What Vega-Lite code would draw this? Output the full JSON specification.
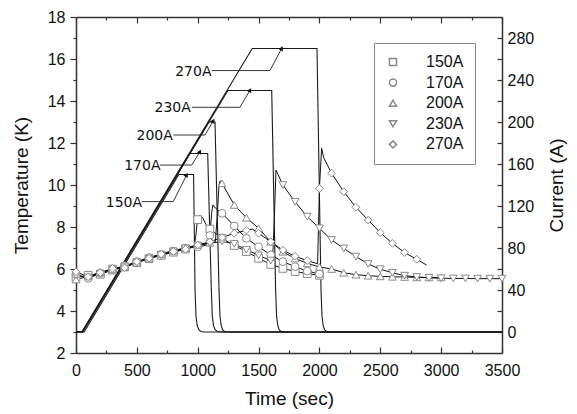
{
  "$schema": "https://vega.github.io/schema/vega-lite/v6.json",
  "width": 426,
  "height": 336,
  "autosize": {"type": "none"},
  "padding": {"left": 76, "top": 17, "right": 75, "bottom": 61},
  "background": "white",
  "config": {
    "view": {"stroke": null},
    "axis": {
      "labelFont": "Liberation Sans", "titleFont": "Liberation Sans",
      "labelFontSize": 16, "titleFontSize": 19, "titleFontWeight": "normal",
      "labelColor": "#111", "titleColor": "#111",
      "domainColor": "#333", "tickColor": "#333", "domainWidth": 1.5, "tickWidth": 1.2,
      "grid": false, "labelFlush": false, "labelOverlap": false
    },
    "legend": {"labelFont": "Liberation Sans", "labelFontSize": 16, "labelColor": "#111"}
  },
  "datasets": {
    "temp": [
      {"s":"150A","t":0,"T":5.6},{"s":"150A","t":100,"T":5.7},{"s":"150A","t":200,"T":5.75},{"s":"150A","t":300,"T":5.95},{"s":"150A","t":400,"T":6.1},{"s":"150A","t":500,"T":6.3},{"s":"150A","t":600,"T":6.5},{"s":"150A","t":700,"T":6.65},{"s":"150A","t":800,"T":6.8},{"s":"150A","t":900,"T":6.95},{"s":"150A","t":970,"T":7.05},{"s":"150A","t":985,"T":7.6},{"s":"150A","t":995,"T":8.2},{"s":"150A","t":1000,"T":8.35},{"s":"150A","t":1015,"T":8.55},{"s":"150A","t":1040,"T":8.45},{"s":"150A","t":1070,"T":8.1},{"s":"150A","t":1100,"T":7.9},{"s":"150A","t":1200,"T":7.46},{"s":"150A","t":1300,"T":7.12},{"s":"150A","t":1400,"T":6.83},{"s":"150A","t":1500,"T":6.51},{"s":"150A","t":1600,"T":6.22},{"s":"150A","t":1700,"T":6.03},{"s":"150A","t":1800,"T":5.88},{"s":"150A","t":1900,"T":5.78},{"s":"150A","t":2000,"T":5.7},
      {"s":"170A","t":0,"T":5.75},{"s":"170A","t":100,"T":5.55},{"s":"170A","t":200,"T":5.8},{"s":"170A","t":300,"T":6.0},{"s":"170A","t":400,"T":6.15},{"s":"170A","t":500,"T":6.35},{"s":"170A","t":600,"T":6.55},{"s":"170A","t":700,"T":6.7},{"s":"170A","t":800,"T":6.85},{"s":"170A","t":900,"T":7.0},{"s":"170A","t":1000,"T":7.05},{"s":"170A","t":1085,"T":7.15},{"s":"170A","t":1100,"T":7.6},{"s":"170A","t":1115,"T":8.7},{"s":"170A","t":1125,"T":9.05},{"s":"170A","t":1145,"T":8.9},{"s":"170A","t":1200,"T":8.65},{"s":"170A","t":1300,"T":8.05},{"s":"170A","t":1400,"T":7.46},{"s":"170A","t":1500,"T":7.06},{"s":"170A","t":1600,"T":6.67},{"s":"170A","t":1700,"T":6.35},{"s":"170A","t":1800,"T":6.11},{"s":"170A","t":1900,"T":5.9},{"s":"170A","t":2000,"T":5.76},
      {"s":"200A","t":0,"T":5.5},{"s":"200A","t":100,"T":5.65},{"s":"200A","t":200,"T":5.85},{"s":"200A","t":300,"T":5.98},{"s":"200A","t":400,"T":6.1},{"s":"200A","t":500,"T":6.3},{"s":"200A","t":600,"T":6.5},{"s":"200A","t":700,"T":6.72},{"s":"200A","t":800,"T":6.88},{"s":"200A","t":900,"T":7.0},{"s":"200A","t":1000,"T":7.15},{"s":"200A","t":1100,"T":7.25},{"s":"200A","t":1145,"T":7.3},{"s":"200A","t":1160,"T":8.5},{"s":"200A","t":1175,"T":10.0},{"s":"200A","t":1185,"T":10.2},{"s":"200A","t":1200,"T":10.08},{"s":"200A","t":1300,"T":9.05},{"s":"200A","t":1400,"T":8.44},{"s":"200A","t":1500,"T":7.94},{"s":"200A","t":1600,"T":7.3},{"s":"200A","t":1700,"T":6.82},{"s":"200A","t":1800,"T":6.5},{"s":"200A","t":1900,"T":6.27},{"s":"200A","t":2000,"T":6.1},{"s":"200A","t":2100,"T":6.0},{"s":"200A","t":2200,"T":5.82},{"s":"200A","t":2300,"T":5.73},{"s":"200A","t":2400,"T":5.68},{"s":"200A","t":2500,"T":5.65},{"s":"200A","t":2600,"T":5.63},{"s":"200A","t":2700,"T":5.62},{"s":"200A","t":2800,"T":5.6},{"s":"200A","t":2900,"T":5.6},{"s":"200A","t":3000,"T":5.6},
      {"s":"230A","t":0,"T":5.7},{"s":"230A","t":100,"T":5.6},{"s":"230A","t":200,"T":5.78},{"s":"230A","t":300,"T":6.02},{"s":"230A","t":400,"T":6.08},{"s":"230A","t":500,"T":6.32},{"s":"230A","t":600,"T":6.48},{"s":"230A","t":700,"T":6.68},{"s":"230A","t":800,"T":6.84},{"s":"230A","t":900,"T":6.98},{"s":"230A","t":1000,"T":7.12},{"s":"230A","t":1100,"T":7.22},{"s":"230A","t":1200,"T":7.32},{"s":"230A","t":1300,"T":7.2},{"s":"230A","t":1400,"T":6.92},{"s":"230A","t":1500,"T":6.65},{"s":"230A","t":1600,"T":6.4},{"s":"230A","t":1615,"T":6.35},{"s":"230A","t":1630,"T":8.5},{"s":"230A","t":1643,"T":10.71},{"s":"230A","t":1660,"T":10.5},{"s":"230A","t":1700,"T":10.0},{"s":"230A","t":1800,"T":9.2},{"s":"230A","t":1900,"T":8.49},{"s":"230A","t":2000,"T":7.94},{"s":"230A","t":2100,"T":7.38},{"s":"230A","t":2200,"T":6.98},{"s":"230A","t":2300,"T":6.59},{"s":"230A","t":2400,"T":6.24},{"s":"230A","t":2500,"T":5.99},{"s":"230A","t":2600,"T":5.82},{"s":"230A","t":2700,"T":5.68},{"s":"230A","t":2800,"T":5.62},{"s":"230A","t":2900,"T":5.58},{"s":"230A","t":3000,"T":5.56},{"s":"230A","t":3100,"T":5.55},{"s":"230A","t":3200,"T":5.55},{"s":"230A","t":3300,"T":5.54},{"s":"230A","t":3400,"T":5.54},{"s":"230A","t":3500,"T":5.54},
      {"s":"270A","t":0,"T":5.87},{"s":"270A","t":100,"T":5.63},{"s":"270A","t":200,"T":5.82},{"s":"270A","t":300,"T":6.03},{"s":"270A","t":400,"T":6.06},{"s":"270A","t":500,"T":6.35},{"s":"270A","t":600,"T":6.51},{"s":"270A","t":700,"T":6.71},{"s":"270A","t":800,"T":6.83},{"s":"270A","t":900,"T":6.94},{"s":"270A","t":1000,"T":7.14},{"s":"270A","t":1100,"T":7.3},{"s":"270A","t":1200,"T":7.5},{"s":"270A","t":1300,"T":7.7},{"s":"270A","t":1400,"T":7.85},{"s":"270A","t":1450,"T":7.9},{"s":"270A","t":1500,"T":7.7},{"s":"270A","t":1600,"T":7.3},{"s":"270A","t":1700,"T":6.9},{"s":"270A","t":1800,"T":6.6},{"s":"270A","t":1900,"T":6.4},{"s":"270A","t":1985,"T":6.25},{"s":"270A","t":2000,"T":9.84},{"s":"270A","t":2018,"T":11.75},{"s":"270A","t":2035,"T":11.3},{"s":"270A","t":2100,"T":10.56},{"s":"270A","t":2200,"T":9.68},{"s":"270A","t":2300,"T":8.94},{"s":"270A","t":2400,"T":8.33},{"s":"270A","t":2500,"T":7.73},{"s":"270A","t":2600,"T":7.22},{"s":"270A","t":2700,"T":6.78},{"s":"270A","t":2800,"T":6.46},{"s":"270A","t":2880,"T":6.19}
    ],
    "cur": [
      {"s":"150A","t":0,"I":0},{"s":"150A","t":67,"I":0},{"s":"150A","t":845,"I":150},{"s":"150A","t":966,"I":150},{"s":"150A","t":978,"I":40},{"s":"150A","t":986,"I":15},{"s":"150A","t":996,"I":6},{"s":"150A","t":1010,"I":2},{"s":"150A","t":1028,"I":0.5},{"s":"150A","t":1053,"I":0},{"s":"150A","t":3500,"I":0},
      {"s":"170A","t":0,"I":0},{"s":"170A","t":53,"I":0},{"s":"170A","t":935,"I":170},{"s":"170A","t":1082,"I":170},{"s":"170A","t":1112,"I":40},{"s":"170A","t":1120,"I":15},{"s":"170A","t":1130,"I":6},{"s":"170A","t":1144,"I":2},{"s":"170A","t":1162,"I":0.5},{"s":"170A","t":1187,"I":0},{"s":"170A","t":3500,"I":0},
      {"s":"200A","t":0,"I":0},{"s":"200A","t":54,"I":0},{"s":"200A","t":1092,"I":200},{"s":"200A","t":1142,"I":200},{"s":"200A","t":1175,"I":40},{"s":"200A","t":1183,"I":15},{"s":"200A","t":1193,"I":6},{"s":"200A","t":1205,"I":2},{"s":"200A","t":1220,"I":0.5},{"s":"200A","t":1240,"I":0},{"s":"200A","t":3500,"I":0},
      {"s":"230A","t":0,"I":0},{"s":"230A","t":54,"I":0},{"s":"230A","t":1248,"I":230},{"s":"230A","t":1608,"I":230},{"s":"230A","t":1640,"I":40},{"s":"230A","t":1648,"I":15},{"s":"230A","t":1658,"I":6},{"s":"230A","t":1670,"I":2},{"s":"230A","t":1686,"I":0.5},{"s":"230A","t":1706,"I":0},{"s":"230A","t":3500,"I":0},
      {"s":"270A","t":0,"I":0},{"s":"270A","t":47,"I":0},{"s":"270A","t":1448,"I":270},{"s":"270A","t":1980,"I":270},{"s":"270A","t":2013,"I":40},{"s":"270A","t":2021,"I":15},{"s":"270A","t":2031,"I":6},{"s":"270A","t":2043,"I":2},{"s":"270A","t":2058,"I":0.5},{"s":"270A","t":2078,"I":0},{"s":"270A","t":3500,"I":0}
    ],
    "annText": [
      {"label":"150A","t":394,"T":9.16},
      {"label":"170A","t":545,"T":10.9},
      {"label":"200A","t":646,"T":12.33},
      {"label":"230A","t":794,"T":13.65},
      {"label":"270A","t":964,"T":15.4}
    ],
    "annLine": [
      {"label":"150A","k":1,"t":540,"T":9.21},{"label":"150A","k":2,"t":799,"T":9.21},{"label":"150A","k":3,"t":909,"T":10.48},
      {"label":"170A","k":1,"t":690,"T":10.95},{"label":"170A","k":2,"t":951,"T":10.95},{"label":"170A","k":3,"t":1019,"T":11.59},
      {"label":"200A","k":1,"t":800,"T":12.38},{"label":"200A","k":2,"t":1060,"T":12.38},{"label":"200A","k":3,"t":1128,"T":13.06},
      {"label":"230A","k":1,"t":951,"T":13.7},{"label":"230A","k":2,"t":1347,"T":13.7},{"label":"230A","k":3,"t":1430,"T":14.52},
      {"label":"270A","k":1,"t":1115,"T":15.45},{"label":"270A","k":2,"t":1594,"T":15.45},{"label":"270A","k":3,"t":1690,"T":16.51}
    ]
  },
  "layer": [
    {
      "data": {"name": "cur"},
      "mark": {"type": "line", "strokeWidth": 1.1, "color": "#1a1a1a"},
      "encoding": {
        "x": {"field": "t", "type": "quantitative", "scale": {"domain": [0, 3500], "nice": false, "zero": false}, "axis": null},
        "y": {"field": "I", "type": "quantitative", "scale": {"domain": [-20, 300], "nice": false, "zero": false},
              "axis": {"orient": "right", "values": [0, 40, 80, 120, 160, 200, 240, 280], "tickSize": -5, "labelPadding": 10, "title": "Current (A)", "titleAngle": 270, "titleBaseline": "top", "titlePadding": 14}},
        "detail": {"field": "s", "type": "nominal"}
      }
    },
    {
      "data": {"name": "temp"},
      "mark": {"type": "line", "strokeWidth": 1, "color": "#111"},
      "encoding": {
        "x": {"field": "t", "type": "quantitative", "scale": {"domain": [0, 3500], "nice": false, "zero": false},
              "axis": {"orient": "bottom", "values": [0, 500, 1000, 1500, 2000, 2500, 3000, 3500], "format": "d", "tickSize": -6, "labelPadding": 15, "title": "Time (sec)", "titlePadding": 11}},
        "y": {"field": "T", "type": "quantitative", "scale": {"domain": [2, 18], "nice": false, "zero": false},
              "axis": {"orient": "left", "values": [2, 4, 6, 8, 10, 12, 14, 16, 18], "tickSize": 6, "labelPadding": 5, "title": "Temperature (K)", "titlePadding": 16}},
        "detail": {"field": "s", "type": "nominal"}
      }
    },
    {
      "data": {"name": "temp"},
      "transform": [{"filter": "datum.t % 100 === 0"}],
      "mark": {"type": "point", "filled": true, "fill": "white", "stroke": "#8a8a8a", "strokeWidth": 1, "size": 60, "opacity": 1},
      "encoding": {
        "x": {"field": "t", "type": "quantitative", "scale": {"domain": [0, 3500], "nice": false, "zero": false},
              "axis": {"orient": "top", "values": [0, 500, 1000, 1500, 2000, 2500, 3000, 3500], "tickSize": -6, "labels": false, "title": null}},
        "y": {"field": "T", "type": "quantitative", "scale": {"domain": [2, 18], "nice": false, "zero": false},
              "axis": {"orient": "left", "values": [3, 5, 7, 9, 11, 13, 15, 17], "tickSize": 3, "labels": false, "domain": false, "title": null}},
        "shape": {"field": "s", "type": "nominal",
                  "scale": {"domain": ["150A", "170A", "200A", "230A", "270A"], "range": ["square", "circle", "triangle-up", "triangle-down", "diamond"]},
                  "legend": {"orient": "none", "legendX": 298, "legendY": 26, "title": null,
                             "symbolSize": 50, "strokeColor": "#888", "padding": 11, "labelOffset": 25, "rowPadding": 4.6,
                             "encode": {"symbols": {
                               "stroke": {"value": "#777"},
                               "strokeWidth": {"value": 1},
                               "fill": {"value": "white"},
                               "opacity": {"value": 1}
                             }}}}
      }
    },
    {
      "data": {"name": "annLine"},
      "mark": {"type": "line", "strokeWidth": 0.9, "color": "#222"},
      "encoding": {
        "x": {"field": "t", "type": "quantitative", "scale": {"domain": [0, 3500], "nice": false, "zero": false},
              "axis": {"orient": "top", "values": [250, 750, 1250, 1750, 2250, 2750, 3250], "tickSize": -3, "labels": false, "domain": false, "title": null}},
        "y": {"field": "T", "type": "quantitative", "scale": {"domain": [2, 18], "nice": false, "zero": false},
              "axis": {"orient": "right", "values": [4, 6, 8, 10, 12, 14, 16], "tickSize": -5, "labels": false, "domain": false, "title": null}},
        "detail": {"field": "label", "type": "nominal"},
        "order": {"field": "k", "type": "quantitative"}
      }
    },
    {
      "data": {"name": "annLine"},
      "transform": [{"filter": "datum.k === 3"}],
      "mark": {"type": "point", "shape": "triangle-up", "filled": true, "color": "#111", "size": 26, "angle": 29, "opacity": 1},
      "encoding": {
        "x": {"field": "t", "type": "quantitative", "scale": {"domain": [0, 3500], "nice": false, "zero": false},
              "axis": {"orient": "bottom", "values": [250, 750, 1250, 1750, 2250, 2750, 3250], "tickSize": -3, "labels": false, "domain": false, "title": null}},
        "y": {"field": "T", "type": "quantitative", "scale": {"domain": [2, 18], "nice": false, "zero": false}, "axis": null}
      }
    },
    {
      "data": {"name": "annText"},
      "mark": {"type": "text", "font": "DejaVu Sans", "fontSize": 14, "align": "center", "baseline": "middle", "color": "#111"},
      "encoding": {
        "x": {"field": "t", "type": "quantitative", "scale": {"domain": [0, 3500], "nice": false, "zero": false}, "axis": null},
        "y": {"field": "T", "type": "quantitative", "scale": {"domain": [2, 18], "nice": false, "zero": false}, "axis": null},
        "text": {"field": "label", "type": "nominal"}
      }
    }
  ],
  "resolve": {
    "scale": {"x": "independent", "y": "independent"},
    "axis": {"x": "independent", "y": "independent"}
  }
}
